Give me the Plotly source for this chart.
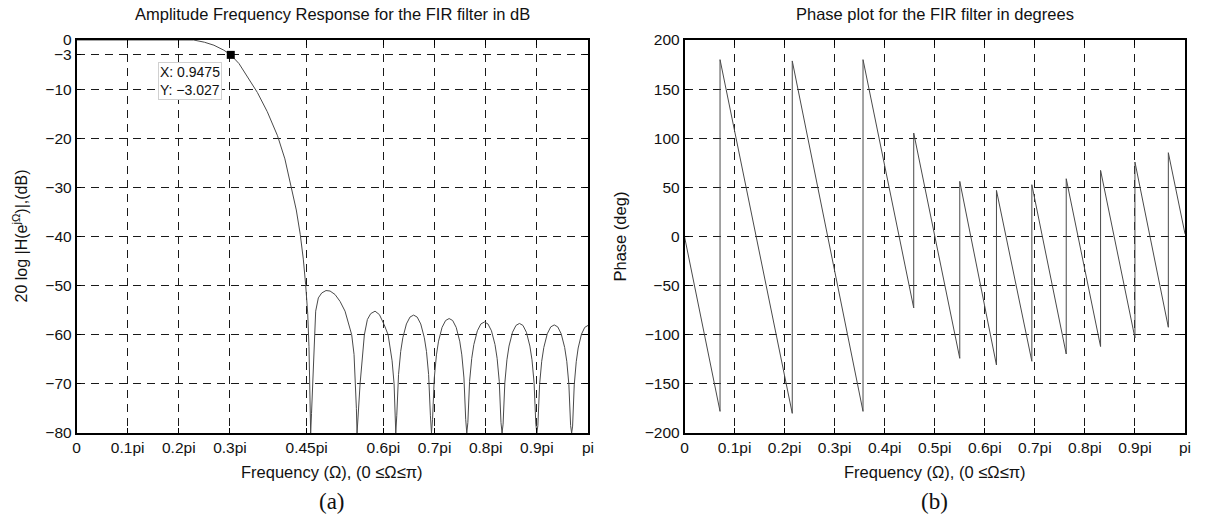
import numpy as np
import plotly.graph_objects as go

# ---- Magnitude response of the FIR filter (frequency in units of pi, level in dB) ----
mag_w = [
    # passband and main-lobe roll-off
    0.0, 0.1, 0.2, 0.229, 0.25, 0.2686, 0.288, 0.301598, 0.3177, 0.334, 0.3537,
    0.373, 0.393, 0.4074, 0.4192, 0.4297, 0.4375, 0.4434, 0.448, 0.452, 0.4545,
    0.4565, 0.457,
    # sidelobe 1
    0.4578, 0.4595, 0.4617, 0.4644, 0.4676, 0.4728, 0.4794, 0.4878, 0.4957,
    0.5054, 0.5152, 0.525, 0.5335, 0.538, 0.5426, 0.5459, 0.5472, 0.5485,
    # sidelobe 2
    0.5505, 0.5544, 0.5628, 0.5687, 0.5752, 0.5837, 0.5922, 0.6013, 0.6092,
    0.617, 0.6209, 0.6228, 0.6242,
    # sidelobe 3
    0.6261, 0.6296, 0.6338, 0.638, 0.645, 0.652, 0.659, 0.666, 0.673, 0.680,
    0.6842, 0.6884, 0.6919, 0.694,
    # sidelobe 4
    0.6961, 0.6995, 0.7037, 0.7078, 0.7147, 0.7216, 0.7285, 0.7354, 0.7423,
    0.7492, 0.7533, 0.7575, 0.7609, 0.763,
    # sidelobe 5
    0.7651, 0.7685, 0.7727, 0.7768, 0.7837, 0.7906, 0.7975, 0.8044, 0.8113,
    0.8182, 0.8223, 0.8265, 0.8299, 0.832,
    # sidelobe 6
    0.834, 0.8374, 0.8415, 0.8456, 0.8524, 0.8592, 0.866, 0.8728, 0.8796,
    0.8864, 0.8905, 0.8946, 0.898, 0.900,
    # sidelobe 7
    0.902, 0.9054, 0.9095, 0.9136, 0.9204, 0.9272, 0.934, 0.9408, 0.9476,
    0.9544, 0.9585, 0.9626, 0.966, 0.968,
    # rising half of the last sidelobe
    0.9699, 0.9731, 0.977, 0.9808, 0.9872, 0.9936, 1.0,
]
mag_db = [
    0.0, 0.0, 0.0, 0.0, -0.45, -1.06, -2.07, -3.027, -4.8, -7.4, -10.7,
    -14.6, -19.5, -24.2, -29.4, -34.6, -39.6, -44.6, -49.8, -55.6, -62.4,
    -72.5, -80.0,
    -80.0, -76.0, -70.1, -60.0, -55.2, -52.5, -51.5, -51.0, -51.1,
    -51.8, -53.2, -55.2, -58.6, -60.0, -64.0, -70.0, -75.0, -80.0,
    -76.0, -70.0, -60.0, -56.9, -55.7, -55.2, -55.9, -57.9, -60.0,
    -65.3, -70.0, -76.0, -80.0,
    -76.5, -68.1, -63.4, -60.6, -57.8, -56.4, -56.0, -56.4, -57.8, -60.6,
    -63.4, -68.1, -76.5, -80.0,
    -77.2, -68.8, -64.1, -61.3, -58.5, -57.1, -56.7, -57.1, -58.5,
    -61.3, -64.1, -68.8, -77.2, -80.0,
    -77.9, -69.5, -64.8, -62.0, -59.2, -57.8, -57.4, -57.8, -59.2,
    -62.0, -64.8, -69.5, -77.9, -80.0,
    -78.2, -69.8, -65.1, -62.3, -59.5, -58.1, -57.7, -58.1, -59.5,
    -62.3, -65.1, -69.8, -78.2, -80.0,
    -78.5, -70.1, -65.4, -62.6, -59.8, -58.4, -58.0, -58.4, -59.8,
    -62.6, -65.4, -70.1, -78.5, -80.0,
    -78.6, -70.2, -65.5, -62.7, -59.9, -58.5, -58.1,
]

# ---- Phase response (wrapped, degrees) : vertices of the sawtooth ----
ph_w = [0.0, 0.071, 0.071, 0.2153, 0.2153, 0.3567, 0.3567, 0.458, 0.458,
        0.55, 0.55, 0.6233, 0.6233, 0.694, 0.694, 0.7627, 0.7627, 0.8313,
        0.8313, 0.9, 0.9, 0.9667, 0.9667, 1.0]
ph_deg = [0.0, -178.0, 180.0, -180.0, 178.7, -178.0, 180.0, -72.7, 105.3,
          -124.0, 56.1, -130.8, 46.9, -127.0, 52.7, -119.6, 58.8, -112.0,
          67.3, -103.3, 75.8, -92.4, 85.3, 2.7]

# ---- Data cursor on the -3 dB point ----
tip_x = 0.9475
tip_y = -3.027

# ---- Axis ticks ----
mag_ticks_pi = [0, 0.1, 0.2, 0.3, 0.45, 0.6, 0.7, 0.8, 0.9, 1.0]
mag_tick_text = ["0", "0.1pi", "0.2pi", "0.3pi", "0.45pi", "0.6pi", "0.7pi",
                 "0.8pi", "0.9pi", "pi"]
ph_ticks_pi = [0, 0.1, 0.2, 0.3, 0.4, 0.5, 0.6, 0.7, 0.8, 0.9, 1.0]
ph_tick_text = ["0", "0.1pi", "0.2pi", "0.3pi", "0.4pi", "0.5pi", "0.6pi",
                "0.7pi", "0.8pi", "0.9pi", "pi"]
db_ticks = [0, -3, -10, -20, -30, -40, -50, -60, -70, -80]
deg_ticks = [200, 150, 100, 50, 0, -50, -100, -150, -200]


def num_label(v):
    return str(v).replace("-", "\u2212")


FONT = "Liberation Sans, Arial, sans-serif"
SERIF = "Liberation Serif, Times New Roman, serif"
INK = "#111111"
LINE = "#4a4a4a"

fig = go.Figure()
fig.add_trace(go.Scatter(x=np.array(mag_w) * np.pi, y=mag_db, mode="lines",
                         line=dict(color=LINE, width=1), xaxis="x", yaxis="y",
                         showlegend=False, hoverinfo="skip"))
fig.add_trace(go.Scatter(x=[tip_x], y=[tip_y], mode="markers",
                         marker=dict(symbol="square", size=8, color="black"),
                         xaxis="x", yaxis="y", showlegend=False,
                         cliponaxis=False, hoverinfo="skip"))
fig.add_trace(go.Scatter(x=np.array(ph_w) * np.pi, y=ph_deg, mode="lines",
                         line=dict(color=LINE, width=1), xaxis="x2", yaxis="y2",
                         showlegend=False, hoverinfo="skip"))

ydom = [1 - 433 / 525, 1 - 40 / 525]
xdom1 = [76.5 / 1205, 588 / 1205]
xdom2 = [684.5 / 1205, 1185 / 1205]

axis_common = dict(
    showline=True, mirror="allticks", linecolor="black", linewidth=1.5,
    ticks="inside", ticklen=5, tickcolor="black", tickwidth=1,
    showgrid=True, gridcolor="#1a1a1a", gridwidth=1, griddash="8px,6px",
    zeroline=False, tickfont=dict(family=FONT, size=15.5, color=INK),
    automargin=False, fixedrange=True,
)

fig.update_layout(
    width=1205, height=525, margin=dict(l=0, r=0, t=0, b=0),
    paper_bgcolor="white", plot_bgcolor="white",
    font=dict(family=FONT, color=INK),
    xaxis=dict(axis_common, domain=xdom1, anchor="y", range=[0, np.pi],
               tickvals=[t * np.pi for t in mag_ticks_pi],
               ticktext=mag_tick_text),
    yaxis=dict(axis_common, domain=ydom, anchor="x", range=[-80, 0],
               tickvals=db_ticks, ticktext=[num_label(v) for v in db_ticks]),
    xaxis2=dict(axis_common, domain=xdom2, anchor="y2", range=[0, np.pi],
                tickvals=[t * np.pi for t in ph_ticks_pi],
                ticktext=ph_tick_text),
    yaxis2=dict(axis_common, domain=ydom, anchor="x2", range=[-200, 200],
                tickvals=deg_ticks, ticktext=[num_label(v) for v in deg_ticks]),
)

cx1 = (xdom1[0] + xdom1[1]) / 2
cx2 = (xdom2[0] + xdom2[1]) / 2
cy = (ydom[0] + ydom[1]) / 2
xlabel = "Frequency (\u03a9), (0 \u2264\u03a9\u2264\u03c0)"

annotations = [
    dict(text="Amplitude Frequency Response for the FIR filter in dB",
         x=cx1, y=1 - 14 / 525, font=dict(size=16.5)),
    dict(text="Phase plot for the FIR filter in degrees",
         x=cx2, y=1 - 14 / 525, font=dict(size=16.5)),
    dict(text=xlabel, x=cx1, y=1 - 472 / 525, font=dict(size=16.5)),
    dict(text=xlabel, x=cx2, y=1 - 472 / 525, font=dict(size=16.5)),
    dict(text="20 log |H(e<sup>j\u03a9</sup>)|,(dB)", x=20 / 1205, y=cy,
         textangle=-90, font=dict(size=16)),
    dict(text="Phase (deg)", x=619 / 1205, y=cy,
         textangle=-90, font=dict(size=16.5)),
    dict(text="(a)", x=cx1, y=1 - 501 / 525, font=dict(size=23, family=SERIF)),
    dict(text="(b)", x=cx2, y=1 - 501 / 525, font=dict(size=23, family=SERIF)),
]
for a in annotations:
    a.update(xref="paper", yref="paper", showarrow=False,
             xanchor="center", yanchor="middle")
    a["font"].setdefault("family", FONT)
    a["font"].setdefault("color", INK)

# data-cursor readout box
annotations.append(dict(
    text="X: " + f"{tip_x:.4f}" + "<br>Y: " + num_label(f"{tip_y:.3f}"),
    xref="x", yref="y", x=tip_x - 0.25, y=-8.35, showarrow=False,
    xanchor="center", yanchor="middle", align="left",
    font=dict(family=FONT, size=14, color=INK),
    bgcolor="white", bordercolor="#d0d0d0", borderwidth=1, borderpad=1,
))

fig.update_layout(annotations=annotations)
fig.write_html("out.html")
